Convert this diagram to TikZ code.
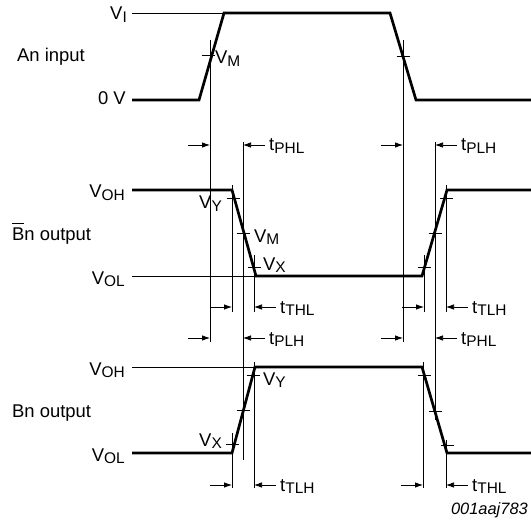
\documentclass[tikz,border=0pt]{standalone}
\usepackage{fontspec}
\setmainfont{Liberation Sans}
\usetikzlibrary{arrows.meta,positioning}
\newcommand{\sub}[2]{#1\raisebox{-2.8bp}{\fontsize{15.5}{16}\selectfont #2}}
\newcommand{\barB}{\makebox[0pt][l]{\raisebox{0.86em}{\rule{0.62em}{0.07em}}}B}

\begin{document}
\begin{tikzpicture}[
  x=1bp, y=-1bp, >={Latex[length=8bp,width=5.5bp]},
  every node/.style={font=\fontsize{18.5}{20}\selectfont, inner sep=0pt},
  wave/.style={line width=2.7bp, line join=miter},
  guide/.style={line width=0.75bp},
  timer/.style={->, line width=0.75bp},
  lvl/.style={anchor=base east},
  tlab/.style={anchor=base west}
]
  \useasboundingbox (0,0) rectangle (531,521);
  % waveforms
  \draw[wave] (132,100) -- (199,100) -- (224,13) -- (390,13) -- (416,100) -- (531,100);
  \draw[wave] (132,190) -- (232,190) -- (256,276) -- (422,276) -- (447,190) -- (531,190);
  \draw[wave] (132,453) -- (232,453) -- (255,367) -- (422,367) -- (447,453) -- (531,453);
  \draw[guide] (132,13) -- (224,13);
  \draw[guide] (132,276) -- (256,276);
  \draw[guide] (132,367) -- (255,367);
  % levels and signal names
  \node[lvl] (vi) at (127,19.5) {\sub{V}{I}};
  \node[lvl] (zero) at (126,105) {0 V};
  \node[lvl] (voh1) at (125,198) {\sub{V}{OH}};
  \node[lvl] (vol1) at (125,284) {\sub{V}{OL}};
  \node[lvl] (voh2) at (125,375) {\sub{V}{OH}};
  \node[lvl] (vol2) at (125,461) {\sub{V}{OL}};
  \node[tlab] (ain) at (17,62) {An input};
  \node[tlab] (bnb) at (12,240) {\barB n output};
  \node[tlab] (bn) at (12,417) {Bn output};
  % measurement points
  \foreach \x/\y in {208/55,403/56,233/198,243/233,254/267,424/267,435/233,
                     446/198,232/444,243/410,253/375,424/375,435/411,447/445}
    \draw[guide] (\x-6.5,\y) -- (\x+6.5,\y);
  \foreach \x/\a/\b in {210/40/342,403/40/342,232/185/312,254/255/312,243/142/460,
                        424/255/312,446/185/312,435/142/420,232/433/488,
                        254/362/488,423/362/488,446/440/488}
    \draw[guide] (\x,\a) -- (\x,\b);
  \node[tlab] (vm0) at (215,64) {\sub{V}{M}};
  \node[lvl] (vy1) at (222,209) {\sub{V}{Y}};
  \node[tlab] (vm1) at (254,242) {\sub{V}{M}};
  \node[tlab] (vx1) at (263,270) {\sub{V}{X}};
  \node[tlab] (vy2) at (263,385) {\sub{V}{Y}};
  \node[lvl] (vx2) at (222,446) {\sub{V}{X}};
  % timing arrows
  \foreach \x/\y in {210/145,403/145,232/307,424/307,210/338,403/338,232/485,423/485}
    \draw[timer] (\x-22,\y) -- (\x,\y);
  \foreach \x/\y/\t [count=\i] in {243/145/PHL,435/145/PLH,254/307/THL,446/307/TLH,
                                   243/338/PLH,435/338/PHL,254/485/TLH,446/485/THL} {
    \node[tlab] (t\i) at (\x+26,\y+6) {\sub{t}{\t}};
    \draw[timer] (\x+22,\y) -- (\x,\y);
  }
  \node[lvl, font=\fontsize{16.5}{18}\selectfont\itshape] (code) at (528,514) {001aaj783};
\end{tikzpicture}
\end{document}
